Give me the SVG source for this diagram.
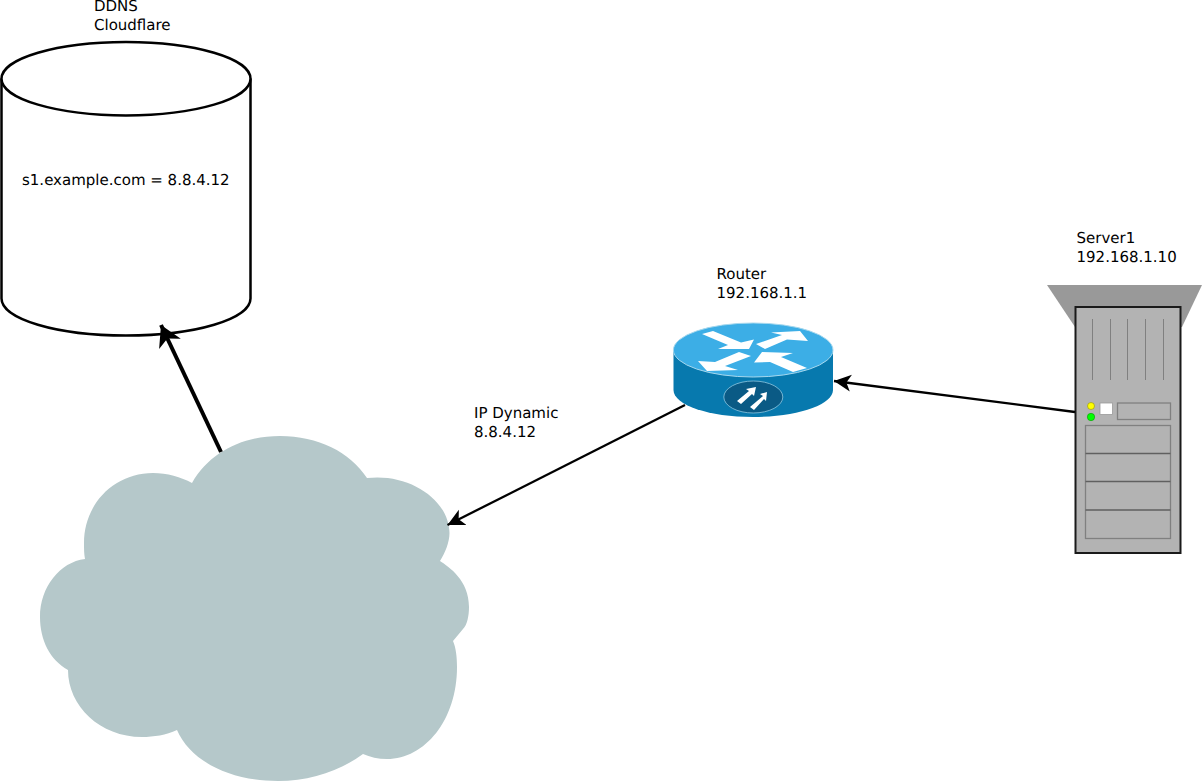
<svg xmlns="http://www.w3.org/2000/svg" width="1202" height="781" viewBox="0 0 1202 781">
<style>
text{font-family:"DejaVu Sans",sans-serif;font-size:15px;fill:#000;text-rendering:geometricPrecision}
.conn{fill:none;stroke:#000}
.vent{stroke:#808080;stroke-width:1;fill:none}
.bay{fill:none;stroke:#808080;stroke-width:1.3}
.bayline{stroke:#606060;stroke-width:1.3}
.wa{fill:#fff}
</style>
<defs>
<marker id="arrow" markerUnits="userSpaceOnUse" markerWidth="20" markerHeight="20" refX="17" refY="10" orient="auto" viewBox="0 0 20 20">
<path d="M17 10L0 1.500L4.500 10L0 18.500Z" fill="#000"/>
</marker>
<marker id="arrow-thick" markerUnits="userSpaceOnUse" markerWidth="24" markerHeight="28" refX="21" refY="14" orient="auto" viewBox="0 0 24 28">
<path d="M21 14L0 2L6 14L0 26Z" fill="#000"/>
</marker>
</defs>
<rect width="1202" height="781" fill="#fff"/>
<g id="db">
<path d="M1.500 78.500V298.500C1.500 319 57 335.500 126 335.500S250.500 319 250.500 298.500V78.500" fill="#fff" stroke="#000" stroke-width="2.500"/>
<ellipse cx="126" cy="78.700" rx="124.500" ry="36.700" fill="#fff" stroke="#000" stroke-width="2.500"/>
<text x="22" y="185">s1.example.com = 8.8.4.12</text>
<text x="94" y="11">DDNS</text>
<text x="94" y="30">Cloudflare</text>
</g>
<g id="cloud">
<path d="M192 483C210 452 243 436 280 436C318 436 350 452 367 478C410 473 449 500 449.500 533C449.500 542 445 553 440 561C449 567 469 580 469 607C469 616 467 625 463 629L453 641C456 648 457 657 457 667C457 720 425 759 387 759C378 759 370 757 363 754C340 771 310 781 278 781C228 781 190 760 177 730C166 735 154 737 142 737C100 737 68 706 68 670C50 660 40 640 40 617C40 587 60 562 85 559C84 554 84 549 84 543C84 504 114 473 153 473C167 473 181 477 192 483Z" fill="#b5c8ca"/>
</g>
<g id="router">
<path d="M673.500 350V390C673.500 405 709 417 753 417S833 405 833 390V350Z" fill="#0779ae"/>
<ellipse cx="753.200" cy="350" rx="79.800" ry="27" fill="#3caee6" stroke="#a6d8ee" stroke-width="1"/>
<path class="wa" d="M702 334L713 331L741 342.500L754 339.500L749 349L718 349L728 345Z"/>
<path class="wa" d="M756 344L782 335L771 332.500L800 331L808 341L787 339.500L765 349Z"/>
<path class="wa" d="M698 361L715 362L739 352L751 356L725 366L738 370L707 371Z"/>
<path class="wa" d="M754 362.500L762 352L793 353L781 357L807 368L793 372L770 362Z"/>
<ellipse cx="753.300" cy="397" rx="29.500" ry="16" fill="#0a5a85" stroke="#8fc7df" stroke-width="0.800"/>
<path class="wa" d="M737 401L749 391L746 389L756 387L754 396L752 394L741 404Z"/>
<path class="wa" d="M750 407L763 396L760 394L767 392L766 401L764 399L754 410Z"/>
<text x="716.500" y="279">Router</text>
<text x="716.500" y="298">192.168.1.1</text>
</g>
<g id="server">
<path d="M1047 285H1202L1182 327H1075Z" fill="#999"/>
<rect x="1075.500" y="307" width="105" height="246" fill="#b3b3b3" stroke="#1a1a1a" stroke-width="2"/>
<path class="vent" d="M1092.500 319V380M1110.500 319V380M1127.500 319V380M1145.500 319V380M1163.500 319V380"/>
<circle cx="1091" cy="406" r="3.500" fill="#ff0" stroke="#808000" stroke-width="0.500"/>
<circle cx="1091" cy="417" r="3.700" fill="#0f0" stroke="#080" stroke-width="0.500"/>
<rect x="1100" y="403" width="12.500" height="11.500" fill="#fff" stroke="#999" stroke-width="0.800"/>
<rect x="1117.500" y="403" width="53" height="16.500" class="bay"/>
<rect x="1085.500" y="425.500" width="85" height="113" class="bay"/>
<path class="bayline" d="M1085.500 453.500H1170.500M1085.500 481.500H1170.500M1085.500 510H1170.500"/>
<text x="1076.500" y="243">Server1</text>
<text x="1076.500" y="262">192.168.1.10</text>
</g>
<text x="474" y="418">IP Dynamic</text>
<text x="474" y="437">8.8.4.12</text>
<g id="connectors">
<path class="conn" stroke-width="4" d="M221 452L161 325" marker-end="url(#arrow-thick)"/>
<path class="conn" stroke-width="2.300" d="M685 405L447.500 525" marker-end="url(#arrow)"/>
<path class="conn" stroke-width="2.300" d="M1075 412L834 381" marker-end="url(#arrow)"/>
</g>
</svg>
